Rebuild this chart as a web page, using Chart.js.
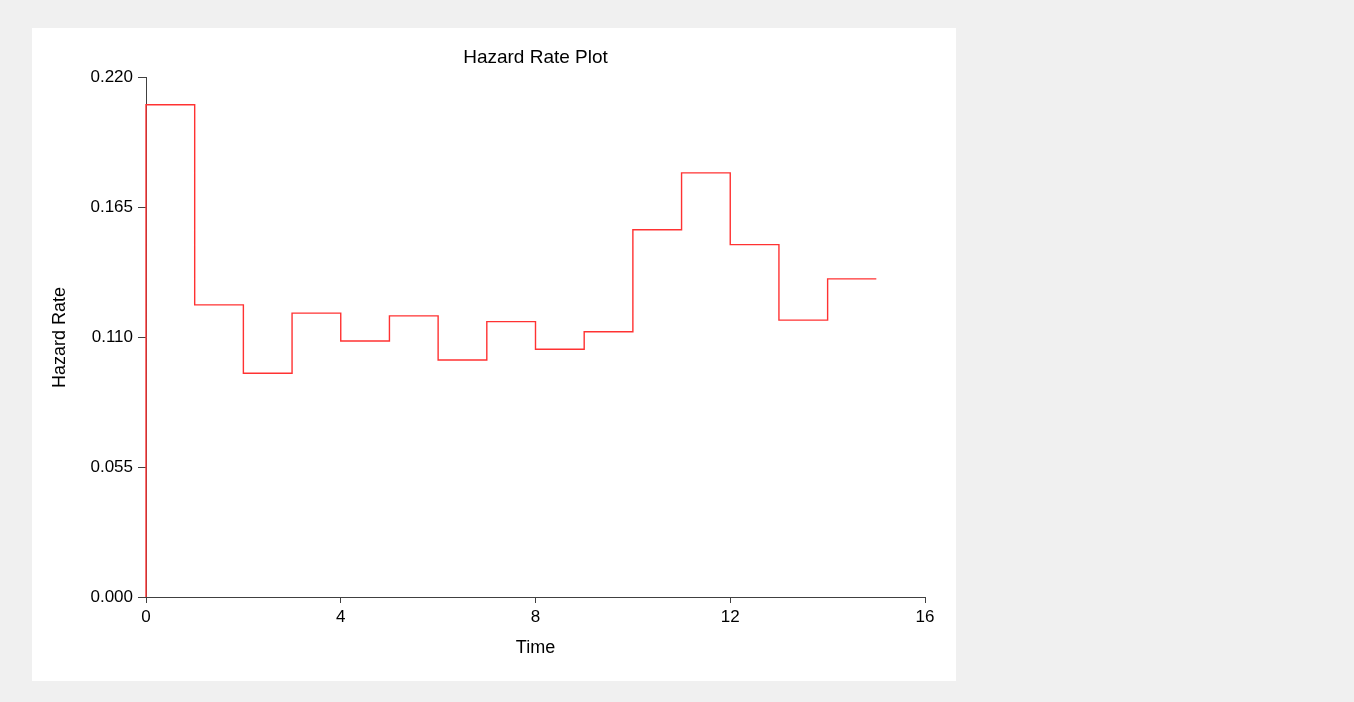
<!DOCTYPE html>
<html>
<head>
<meta charset="utf-8">
<script src="https://cdn.jsdelivr.net/npm/chart.js@4.4.1/dist/chart.umd.min.js"></script>
<style>
  body { margin: 0; background: #f0f0f0; width: 1354px; height: 702px; overflow: hidden; }
  #panel { position: absolute; left: 32px; top: 28px; width: 924px; height: 653px; background: #ffffff; }
</style>
</head>
<body>
<div id="panel"><canvas id="hazardChart" width="924" height="653"></canvas></div>
<script>
// interval start times and the hazard rate in each interval
const times = [0, 1, 2, 3, 4, 5, 6, 7, 8, 9, 10, 11, 12, 13, 14, 15];
const hazard = [0.2086, 0.1238, 0.0948, 0.1203, 0.1085, 0.1191, 0.1004, 0.1167,
                0.1050, 0.1124, 0.1556, 0.1797, 0.1493, 0.1173, 0.1348];
const xTicks = [0, 4, 8, 12, 16];
const yTicks = [0.000, 0.055, 0.110, 0.165, 0.220];

const fontFamily = 'Arial, "Liberation Sans", sans-serif';

function makeSteps() {
  // start from zero at time 0, then one step per interval
  const pts = [{ x: times[0], y: 0 }];
  for (let i = 0; i < hazard.length; i++) {
    pts.push({ x: times[i], y: hazard[i] });
  }
  pts.push({ x: times[hazard.length], y: hazard[hazard.length - 1] });
  return pts;
}

function makeChart() {
  const ctx = document.getElementById('hazardChart');

  const chart = new Chart(ctx, {
    type: 'line',
    data: {
      datasets: [{
        label: 'Hazard Rate',
        data: makeSteps(),
        stepped: 'before',
        borderColor: 'rgb(255, 50, 50)',
        borderWidth: 1.4,
        pointRadius: 0,
        fill: false,
        clip: false
      }]
    },
    options: {
      responsive: false,
      animation: false,
      layout: { padding: { left: 0, right: 31, top: 0, bottom: 0 } },
      plugins: {
        legend: { display: false },
        tooltip: { enabled: false },
        title: {
          display: true,
          fullSize: false,
          text: 'Hazard Rate Plot',
          color: '#000000',
          font: { family: fontFamily, size: 19, weight: 'normal' },
          padding: { top: 18, bottom: 9 }
        }
      },
      scales: {
        x: {
          type: 'linear',
          min: 0,
          max: 16,
          afterBuildTicks: scale => { scale.ticks = xTicks.map(v => ({ value: v })); },
          afterFit: scale => { scale.height = 84; },
          border: { display: true, color: '#404040', width: 1 },
          grid: { drawOnChartArea: false, drawTicks: true, tickLength: 6, color: '#404040' },
          ticks: {
            color: '#000000',
            padding: 4,
            maxRotation: 0,
            font: { family: fontFamily, size: 17 }
          },
          title: {
            display: true,
            text: 'Time',
            color: '#000000',
            font: { family: fontFamily, size: 18 },
            padding: { top: 0, bottom: 22 }
          }
        },
        y: {
          type: 'linear',
          min: 0,
          max: 0.22,
          afterBuildTicks: scale => { scale.ticks = yTicks.map(v => ({ value: v })); },
          afterFit: scale => { scale.width = 114; },
          border: { display: true, color: '#404040', width: 1 },
          grid: { drawOnChartArea: false, drawTicks: true, tickLength: 8, color: '#404040' },
          ticks: {
            color: '#000000',
            padding: 5,
            font: { family: fontFamily, size: 17 },
            callback: value => Number(value).toFixed(3)
          },
          title: {
            display: true,
            text: 'Hazard Rate',
            color: '#000000',
            font: { family: fontFamily, size: 18 },
            padding: { top: 17, bottom: 0 }
          }
        }
      }
    }
  });
  return chart;
}

document.addEventListener('DOMContentLoaded', function() {
  makeChart();
});
</script>
</body>
</html>
